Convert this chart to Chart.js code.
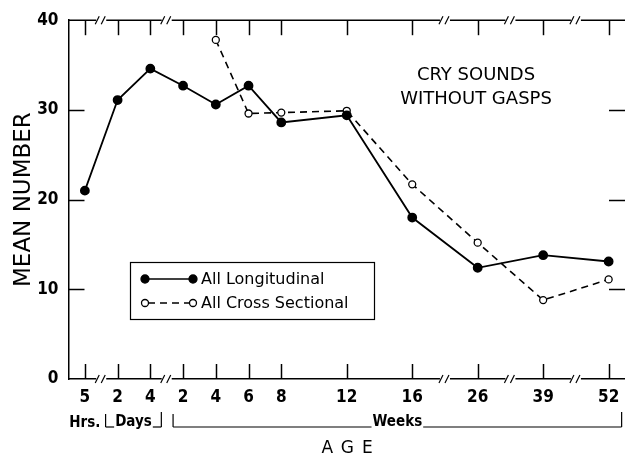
<!DOCTYPE html>
<html>
<head>
<meta charset="utf-8">
<script src="https://cdn.jsdelivr.net/npm/chart.js@4"></script>
<style>
html, body { margin: 0; padding: 0; background: #fff; }
canvas { display: block; }
</style>
</head>
<body>
<canvas id="cryChart" width="625" height="456"></canvas>
<script>
// Age points: 5 hrs, 2-4 days, 2-52 weeks. Blank slots keep the wider spacing of the later weeks
var ageLabels = ['5', '2', '4', '2', '4', '6', '8', '', '12', '', '16', '', '26', '', '39', '', '52'];
var longitudinal = [21.0, 31.1, 34.6, 32.7, 30.6, 32.7, 28.6, null, 29.4, null, 18.0, null, 12.4, null, 13.8, null, 13.1];
var crossSectional = [null, null, null, null, 37.8, 29.6, 29.7, null, 29.9, null, 21.7, null, 15.2, null, 8.8, null, 11.1];
var yTicks = [0, 10, 20, 30, 40];

// unit brackets under the age labels (index ranges into ageLabels)
var unitNames = ['Hrs.', 'Days', 'Weeks'];
var unitFrom = [0, 1, 3];
var unitTo = [0, 2, 16];

// axis breaks "//" between these label indexes
var breakFrom = [0, 2, 10, 12, 14];
var breakTo = [1, 3, 12, 14, 16];

var titleLines = ['CRY SOUNDS', 'WITHOUT GASPS'];
var seriesNames = ['All Longitudinal', 'All Cross Sectional'];

var narrow = "'Liberation Sans Narrow', 'DejaVu Sans Condensed', 'Arial Narrow', sans-serif";
var plain = "'DejaVu Sans', 'Liberation Sans', sans-serif";

function seg(c, x1, y1, x2, y2) {
    c.beginPath();
    c.moveTo(x1, y1);
    c.lineTo(x2, y2);
    c.stroke();
}

function marker(c, x, y, filled) {
    c.beginPath();
    c.arc(x, y, filled ? 4 : 3.5, 0, Math.PI * 2);
    c.fillStyle = filled ? '#000' : '#fff';
    c.fill();
    c.lineWidth = 1.3;
    c.setLineDash([]);
    c.stroke();
}

// frame, inward ticks, axis breaks, brackets, legend and the inner title
var decorations = {
    id: 'decorations',
    afterDraw: function(chart) {
        var c = chart.ctx;
        var area = chart.chartArea;
        var xs = chart.scales.x;
        var ys = chart.scales.y;
        c.save();
        c.setLineDash([]);
        c.strokeStyle = '#000';
        c.lineWidth = 1.5;

        // top border
        seg(c, area.left, area.top, area.right, area.top);

        // ticks pointing in from top and bottom
        for (var i = 0; i < ageLabels.length; i++) {
            if (ageLabels[i] === '') continue;
            var px = Math.round(xs.getPixelForTick(i)) + 0.5;
            seg(c, px, area.bottom, px, area.bottom - 15);
            seg(c, px, area.top, px, area.top + 15);
        }

        // ticks pointing in from left and right
        yTicks.forEach(function(v) {
            if (v === 0 || v === 40) return;
            var py = Math.round(ys.getPixelForValue(v)) + 0.5;
            seg(c, area.left, py, area.left + 16, py);
            seg(c, area.right, py, area.right - 16, py);
        });

        // axis breaks
        breakFrom.forEach(function(from, k) {
            var mid = (xs.getPixelForTick(from) + xs.getPixelForTick(breakTo[k])) / 2;
            [area.top, area.bottom].forEach(function(py) {
                c.fillStyle = '#fff';
                c.fillRect(mid - 5, py - 2, 10, 4);
                c.lineWidth = 1.2;
                seg(c, mid - 6, py + 4, mid - 2, py - 4);
                seg(c, mid, py + 4, mid + 4, py - 4);
            });
        });

        // unit brackets under the labels
        c.lineWidth = 1.2;
        c.fillStyle = '#000';
        c.font = 'bold 15px ' + narrow;
        c.textAlign = 'center';
        c.textBaseline = 'alphabetic';
        var base = 427;
        unitNames.forEach(function(name, k) {
            var x1 = xs.getPixelForTick(unitFrom[k]);
            var x2 = xs.getPixelForTick(unitTo[k]);
            if (unitFrom[k] === unitTo[k]) {
                c.fillText(name, x1, base);
                return;
            }
            var left = x1 - (k === 2 ? 10 : 12);
            var right = x2 + (k === 2 ? 13 : 11);
            var mid = (left + right) / 2;
            var w = c.measureText(name).width;
            c.fillText(name, mid, base - 1);
            seg(c, left, base - 13, left, base);
            seg(c, left, base, mid - w / 2 - 1, base);
            seg(c, mid + w / 2 + 1, base, right, base);
            seg(c, right, base, right, base - 15);
        });

        // x axis title, letter spaced
        c.font = '17px ' + plain;
        c.letterSpacing = '8px';
        c.textAlign = 'left';
        var aw = c.measureText('AGE').width - 8;
        c.fillText('AGE', 347 - aw / 2, 453);
        c.letterSpacing = '0px';

        // title inside the plot
        c.font = '18px ' + plain;
        c.textAlign = 'center';
        c.fillText(titleLines[0], 476, 80);
        c.fillText(titleLines[1], 476, 104);

        // legend box
        c.lineWidth = 1.2;
        c.strokeRect(130.5, 262.5, 244, 57);
        var rows = [279, 303];
        c.lineWidth = 1.6;
        seg(c, 145, rows[0], 193, rows[0]);
        marker(c, 145, rows[0], true);
        marker(c, 193, rows[0], true);
        c.lineWidth = 1.6;
        c.setLineDash([7, 5]);
        seg(c, 148, rows[1], 190, rows[1]);
        c.setLineDash([]);
        marker(c, 145, rows[1], false);
        marker(c, 193, rows[1], false);
        c.fillStyle = '#000';
        c.font = '16px ' + plain;
        c.textAlign = 'left';
        c.textBaseline = 'middle';
        c.fillText(seriesNames[0], 201, rows[0] + 1);
        c.fillText(seriesNames[1], 201, rows[1] + 1);
        c.restore();
    }
};

var ctx = document.getElementById('cryChart').getContext('2d');
var cryChart = new Chart(ctx, {
    type: 'line',
    data: {
        labels: ageLabels,
        datasets: [{
            label: seriesNames[0],
            data: longitudinal,
            borderColor: '#000',
            borderWidth: 1.8,
            pointRadius: 4,
            pointBackgroundColor: '#000',
            pointBorderColor: '#000',
            spanGaps: true,
            tension: 0
        }, {
            label: seriesNames[1],
            data: crossSectional,
            borderColor: '#000',
            borderWidth: 1.6,
            borderDash: [7, 5],
            pointRadius: 3.5,
            pointBackgroundColor: '#fff',
            pointBorderColor: '#000',
            pointBorderWidth: 1.3,
            spanGaps: true,
            tension: 0
        }]
    },
    options: {
        responsive: false,
        animation: false,
        layout: { autoPadding: false, padding: { top: 19, right: 0, left: 0, bottom: 0 } },
        plugins: {
            legend: { display: false },
            tooltip: { enabled: false }
        },
        scales: {
            x: {
                type: 'category',
                offset: true,
                grid: { display: true, drawOnChartArea: false, drawTicks: false },
                border: { display: true, color: '#000', width: 1.5 },
                ticks: {
                    autoSkip: false,
                    maxRotation: 0,
                    padding: 8,
                    color: '#000',
                    font: { family: narrow, size: 17, weight: 'bold' }
                },
                afterFit: function(scale) {
                    scale.height = 77;
                    scale.paddingLeft = 0;
                    scale.paddingRight = 0;
                }
            },
            y: {
                min: 0,
                max: 40,
                grid: { display: true, drawOnChartArea: false, drawTicks: false },
                border: { display: true, color: '#000', width: 1.5 },
                ticks: {
                    stepSize: 10,
                    padding: 10,
                    color: '#000',
                    font: { family: narrow, size: 17, weight: 'bold' }
                },
                title: {
                    display: true,
                    text: 'MEAN NUMBER',
                    color: '#000',
                    font: { family: plain, size: 23 },
                    padding: { top: 10, bottom: 0 }
                },
                afterFit: function(scale) { scale.width = 68.5; }
            }
        }
    },
    plugins: [decorations]
});
</script>
</body>
</html>
